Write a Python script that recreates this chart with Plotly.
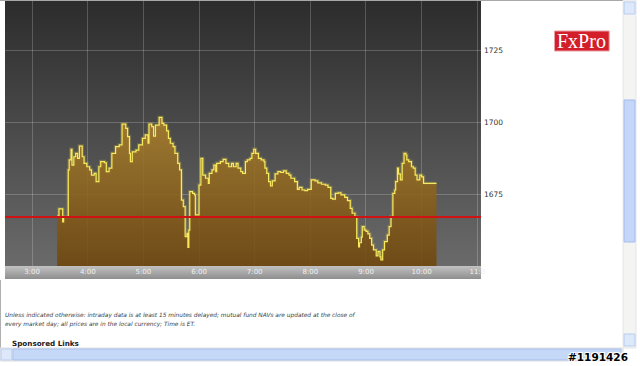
import base64
import plotly.graph_objects as go

# ---------------- data ----------------
times = ["3:27", "3:29", "3:33", "3:34", "3:39", "3:40", "3:42", "3:43", "3:45", "3:47",
         "3:49", "3:51", "3:54", "3:56", "3:59", "4:02", "4:04", "4:07", "4:09", "4:12",
         "4:14", "4:18", "4:20", "4:23", "4:26", "4:30", "4:34", "4:37", "4:41", "4:43",
         "4:45", "4:46", "4:48", "4:52", "4:55", "4:59", "5:02", "5:05", "5:06", "5:09",
         "5:11", "5:13", "5:17", "5:20", "5:22", "5:25", "5:27", "5:29", "5:32", "5:34",
         "5:37", "5:39", "5:41", "5:43", "5:45", "5:47", "5:48", "5:49", "5:50", "5:53",
         "5:55", "5:56", "6:00", "6:02", "6:04", "6:07", "6:10", "6:11", "6:14", "6:16",
         "6:18", "6:19", "6:23", "6:26", "6:29", "6:32", "6:35", "6:37", "6:40", "6:42",
         "6:45", "6:47", "6:50", "6:52", "6:55", "6:57", "6:59", "7:01", "7:04", "7:07",
         "7:10", "7:11", "7:13", "7:15", "7:17", "7:19", "7:22", "7:25", "7:28", "7:31",
         "7:34", "7:37", "7:39", "7:43", "7:46", "7:48", "7:51", "7:54", "7:57", "8:01",
         "8:05", "8:08", "8:12", "8:16", "8:19", "8:22", "8:24", "8:27", "8:30", "8:33",
         "8:37", "8:40", "8:43", "8:45", "8:48", "8:50", "8:52", "8:53", "8:55", "8:56",
         "8:58", "9:00", "9:02", "9:04", "9:06", "9:08", "9:11", "9:13", "9:15", "9:16",
         "9:18", "9:20", "9:23", "9:25", "9:27", "9:29", "9:31", "9:32", "9:34", "9:35",
         "9:37", "9:39", "9:41", "9:43", "9:44", "9:46", "9:49", "9:51", "9:53", "9:55",
         "9:58", "10:00", "10:02", "10:16"]
prices = [1667.3, 1669.8, 1665.3, 1667.1, 1683.4, 1686.9, 1690.6, 1685.1, 1688.0, 1689.2,
          1687.4, 1691.7, 1688.0, 1685.7, 1684.5, 1683.4, 1681.6, 1682.2, 1679.3, 1684.5,
          1686.3, 1685.9, 1682.8, 1684.0, 1689.2, 1691.5, 1692.1, 1699.4, 1697.9, 1695.0,
          1689.2, 1686.3, 1689.7, 1690.3, 1692.1, 1694.4, 1695.6, 1692.7, 1699.4, 1698.5,
          1695.2, 1699.0, 1701.7, 1699.6, 1699.0, 1697.0, 1694.4, 1692.7, 1691.5, 1689.2,
          1685.7, 1683.4, 1672.9, 1670.6, 1660.1, 1661.3, 1656.4, 1662.4, 1675.8, 1675.2,
          1674.7, 1667.7, 1678.1, 1687.4, 1681.6, 1680.5, 1678.7, 1682.2, 1683.4, 1685.1,
          1682.8, 1685.7, 1686.3, 1687.1, 1685.7, 1684.5, 1685.7, 1684.5, 1685.7, 1684.0,
          1682.8, 1682.2, 1686.3, 1686.9, 1687.4, 1689.2, 1690.6, 1689.2, 1687.4, 1686.9,
          1686.3, 1684.0, 1682.2, 1679.3, 1677.8, 1679.6, 1682.0, 1682.8, 1682.5, 1683.1,
          1682.2, 1681.6, 1680.5, 1679.3, 1676.6, 1677.3, 1676.4, 1676.2, 1676.6, 1679.9,
          1679.6, 1678.9, 1678.4, 1678.1, 1677.3, 1673.5, 1673.2, 1675.2, 1675.4, 1674.7,
          1673.8, 1672.7, 1670.0, 1668.3, 1667.1, 1659.5, 1656.6, 1658.0, 1660.0, 1663.6,
          1662.4, 1662.0, 1661.1, 1659.5, 1657.2, 1655.5, 1653.4, 1654.9, 1653.1, 1652.0,
          1655.5, 1658.4, 1660.7, 1663.6, 1667.1, 1675.2, 1676.4, 1679.3, 1684.0, 1682.0,
          1679.9, 1685.7, 1689.2, 1688.6, 1686.9, 1686.3, 1684.5, 1684.0, 1681.6, 1679.9,
          1681.6, 1681.0, 1678.7, 1678.7]
reference_level = 1667.0
hour_ticks = [3, 4, 5, 6, 7, 8, 9, 10, 11]
hour_labels = ["3:00", "4:00", "5:00", "6:00", "7:00", "8:00", "9:00", "10:00", "11:0"]
price_ticks = [1675, 1700, 1725]
price_labels = ["1675", "1700", "1725"]
footer_lines = [
    "Unless indicated otherwise: intraday data is at least 15 minutes delayed; mutual fund NAVs are updated at the close of",
    "every market day; all prices are in the local currency; Time is ET.",
]
sponsored_text = "Sponsored Links"
logo_text = "FxPro"
watermark_text = "#1191426"

# ---------------- helpers ----------------
W, H = 640, 366


def to_hours(s):
    h, m = s.split(":")
    return int(h) + int(m) / 60.0


def px(x):
    return x / W


def py(y):
    return 1 - y / H


def grad_uri(top, bottom):
    svg = ("<svg xmlns='http://www.w3.org/2000/svg' width='100' height='100' viewBox='0 0 100 100' "
           "preserveAspectRatio='none'><defs><linearGradient id='g' x1='0' y1='0' x2='0' y2='1'>"
           f"<stop offset='0' stop-color='{top}'/><stop offset='1' stop-color='{bottom}'/>"
           "</linearGradient></defs><rect width='100' height='100' fill='url(#g)'/></svg>")
    return "data:image/svg+xml;base64," + base64.b64encode(svg.encode()).decode()


xs = [to_hours(t) for t in times]

PL, PR, PT, PB = 5, 484, 1, 266  # plot area in pixels

fig = go.Figure()

# soft glow under the line
fig.add_trace(go.Scatter(
    x=xs, y=prices, mode="lines", line_shape="hv",
    line=dict(color="rgba(245,225,70,0.22)", width=3.5),
    hoverinfo="skip", showlegend=False))

fig.add_trace(go.Scatter(
    x=xs, y=prices, mode="lines", line_shape="hv",
    fill="tozeroy",
    fillgradient=dict(type="vertical",
                      colorscale=[[0, "rgba(111,69,10,0.86)"], [1, "rgba(172,130,46,0.86)"]],
                      start=1650, stop=1702),
    line=dict(color="#f8ea5c", width=1.2),
    showlegend=False))

shapes = []
# reference (red) line
shapes.append(dict(type="line", xref="x domain", yref="y", x0=0, x1=1,
                   y0=reference_level, y1=reference_level,
                   line=dict(color="#d01212", width=2), layer="above"))
# top page edge
shapes.append(dict(type="line", xref="paper", yref="paper", x0=0, x1=1, y0=py(0.5), y1=py(0.5),
                   line=dict(color="#a8a8a8", width=1)))
# left page edge
shapes.append(dict(type="line", xref="paper", yref="paper", x0=px(0.5), x1=px(0.5), y0=py(280), y1=py(348),
                   line=dict(color="#b0b0b0", width=1)))
# logo box
shapes.append(dict(type="rect", xref="paper", yref="paper", x0=px(558), x1=px(613), y0=py(51), y1=py(31),
                   fillcolor="#d31f2a", line=dict(color="#e9a0a4", width=1)))
# vertical scrollbar
shapes.append(dict(type="rect", xref="paper", yref="paper", x0=px(627), x1=px(640), y0=py(348), y1=py(0),
                   fillcolor="#f4f4f2", line=dict(color="#e6e6e6", width=1)))
shapes.append(dict(type="rect", xref="paper", yref="paper", x0=px(628), x1=px(639), y0=py(14), y1=py(2),
                   fillcolor="#dde8fb", line=dict(color="#b9cdf0", width=1)))
shapes.append(dict(type="rect", xref="paper", yref="paper", x0=px(628), x1=px(639), y0=py(242), y1=py(100),
                   fillcolor="#c5d7f8", line=dict(color="#a3bcec", width=1)))
shapes.append(dict(type="rect", xref="paper", yref="paper", x0=px(628), x1=px(639), y0=py(346), y1=py(334),
                   fillcolor="#dde8fb", line=dict(color="#b9cdf0", width=1)))
# horizontal scrollbar
shapes.append(dict(type="rect", xref="paper", yref="paper", x0=px(0), x1=px(627), y0=py(361), y1=py(348),
                   fillcolor="#f0f0ee", line=dict(color="#e0e0e0", width=1)))
shapes.append(dict(type="rect", xref="paper", yref="paper", x0=px(13), x1=px(625), y0=py(360), y1=py(349),
                   fillcolor="#c6d8f8", line=dict(color="#a6bfec", width=1)))
shapes.append(dict(type="rect", xref="paper", yref="paper", x0=px(1), x1=px(12), y0=py(360), y1=py(349),
                   fillcolor="#dde8fb", line=dict(color="#b9cdf0", width=1)))

images = [
    dict(source=grad_uri("#2c2c2c", "#6a6a6a"), xref="paper", yref="paper",
         x=px(PL), y=py(PT), sizex=px(PR) - px(PL), sizey=py(PT) - py(PB),
         xanchor="left", yanchor="top", sizing="stretch", layer="below"),
    dict(source=grad_uri("#c2c2c2", "#8e8e8e"), xref="paper", yref="paper",
         x=px(PL), y=py(PB), sizex=px(PR) - px(PL), sizey=py(PB) - py(279),
         xanchor="left", yanchor="top", sizing="stretch", layer="below"),
]

annotations = []
for i, line in enumerate(footer_lines):
    annotations.append(dict(text=line, xref="paper", yref="paper", x=px(3), y=py(315 + 9 * i),
                            xanchor="left", yanchor="middle", showarrow=False,
                            font=dict(family="DejaVu Sans", size=5.85, color="#3c3c3c", style="italic")))
annotations.append(dict(text=sponsored_text, xref="paper", yref="paper", x=px(10), y=py(343),
                        xanchor="left", yanchor="middle", showarrow=False,
                        font=dict(family="DejaVu Sans", size=7.2, color="#1a1a1a", weight="bold")))
annotations.append(dict(text=logo_text, xref="paper", yref="paper", x=px(585.5), y=py(41),
                        xanchor="center", yanchor="middle", showarrow=False,
                        font=dict(family="Liberation Serif", size=20, color="white")))
annotations.append(dict(text=watermark_text, xref="paper", yref="paper", x=px(634), y=py(357),
                        xanchor="right", yanchor="middle", showarrow=False,
                        font=dict(family="DejaVu Sans", size=10.5, color="black", weight="bold",
                                  shadow="1px 1px 0 white, -1px -1px 0 white, 1px -1px 0 white, -1px 1px 0 white")))

fig.update_layout(
    width=W, height=H,
    margin=dict(l=0, r=0, t=0, b=0),
    paper_bgcolor="white",
    plot_bgcolor="rgba(0,0,0,0)",
    showlegend=False,
    shapes=shapes, images=images, annotations=annotations,
    xaxis=dict(domain=[px(PL), px(PR)], range=[2.5125, 11.066],
               tickvals=hour_ticks, ticktext=hour_labels,
               showgrid=True, gridcolor="rgba(255,255,255,0.2)", gridwidth=1,
               zeroline=False, showline=False, ticks="",
               tickfont=dict(family="DejaVu Sans", size=7, color="#f0f0f0")),
    yaxis=dict(domain=[py(PB), py(PT)], range=[1649.9, 1742.3], side="right",
               tickvals=price_ticks, ticktext=price_labels,
               showgrid=True, gridcolor="rgba(255,255,255,0.2)", gridwidth=1,
               zeroline=False, showline=False, ticks="", ticklabelstandoff=2,
               tickfont=dict(family="DejaVu Sans", size=7.5, color="#333")),
)

fig.write_html("out.html", config={"displayModeBar": False},
               post_script="document.body.style.margin='0';document.body.style.overflow='hidden';")
